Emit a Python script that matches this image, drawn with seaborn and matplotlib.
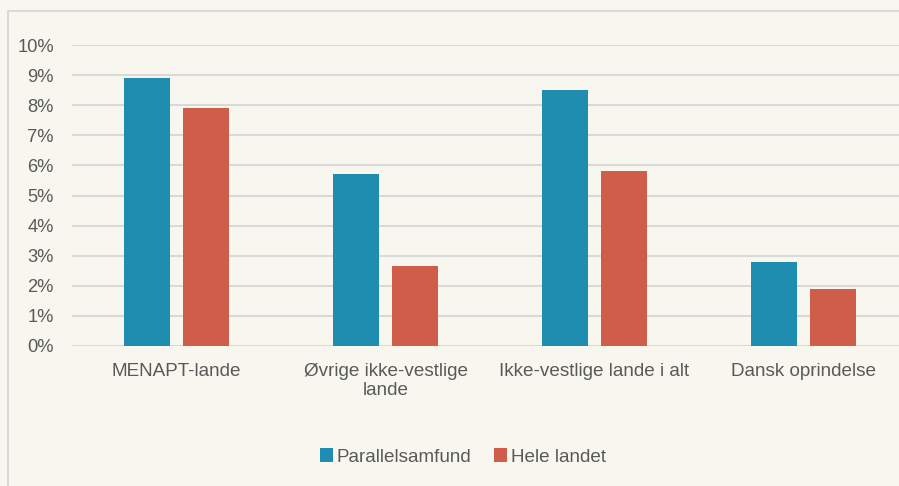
import numpy as np
import pandas as pd
import matplotlib.pyplot as plt
import seaborn as sns
from matplotlib.patches import Rectangle
from matplotlib.ticker import PercentFormatter

categories = ["MENAPT-lande", "Øvrige ikke-vestlige\nlande", "Ikke-vestlige lande i alt", "Dansk oprindelse"]
parallel = [8.9, 5.7, 8.5, 2.8]
hele_landet = [7.9, 2.65, 5.82, 1.9]
series = ["Parallelsamfund", "Hele landet"]

df = pd.DataFrame({
    "kategori": categories * 2,
    "andel": parallel + hele_landet,
    "serie": [series[0]] * 4 + [series[1]] * 4,
})

bg = "#f8f7ef"
txt = "#595959"
grid = "#d9d9d9"
fs = 13.6

sns.set_theme(style="white")
plt.rcParams['font.family'] = ['Liberation Sans', 'DejaVu Sans']

fig = plt.figure(figsize=(8.99, 4.86), dpi=100)
fig.patch.set_facecolor(bg)
W, H = 899, 486
# axes runs past the right edge like the cropped original
ax = fig.add_axes([72 / W, 1 - 346 / H, (908 - 72) / W, (346 - 45) / H])
ax.set_facecolor(bg)

# outer frame of the chart
fig.patches.append(Rectangle((8 / W, -0.1), 2, 1 - 11 / H + 0.1, transform=fig.transFigure,
                             fill=False, edgecolor=grid, lw=1.5, zorder=0))

sns.barplot(data=df, x="kategori", y="andel", hue="serie", ax=ax,
            palette=["#1f8db0", "#d05c4a"], width=0.569, gap=0.227,
            edgecolor="none", saturation=1, legend=True)

ax.set_ylim(0, 10)
ax.set_yticks(range(0, 11))
ax.yaxis.set_major_formatter(PercentFormatter(decimals=0))
ax.set_xlim(-0.5, 3.5)
ax.grid(axis="y", color=grid, lw=1.5)
ax.set_axisbelow(True)
for s in ax.spines.values():
    s.set_visible(False)
ax.set_xlabel("")
ax.set_ylabel("")
ax.tick_params(axis="y", labelsize=13.2, colors=txt, pad=13, length=0)
ax.tick_params(axis="x", labelsize=fs, colors=txt, pad=12, length=0)
for lab in ax.get_xticklabels():
    lab.set_linespacing(1.15)

handles, labels = ax.get_legend_handles_labels()
ax.get_legend().remove()
fig.legend(handles, labels, loc="center", bbox_to_anchor=(463 / W, 1 - 457 / H),
           ncol=2, frameon=False, fontsize=fs, labelcolor=txt,
           handlelength=0.7, handleheight=0.7, handletextpad=0.2, columnspacing=1.2)

fig.savefig("out.png", dpi=100, facecolor=bg)
